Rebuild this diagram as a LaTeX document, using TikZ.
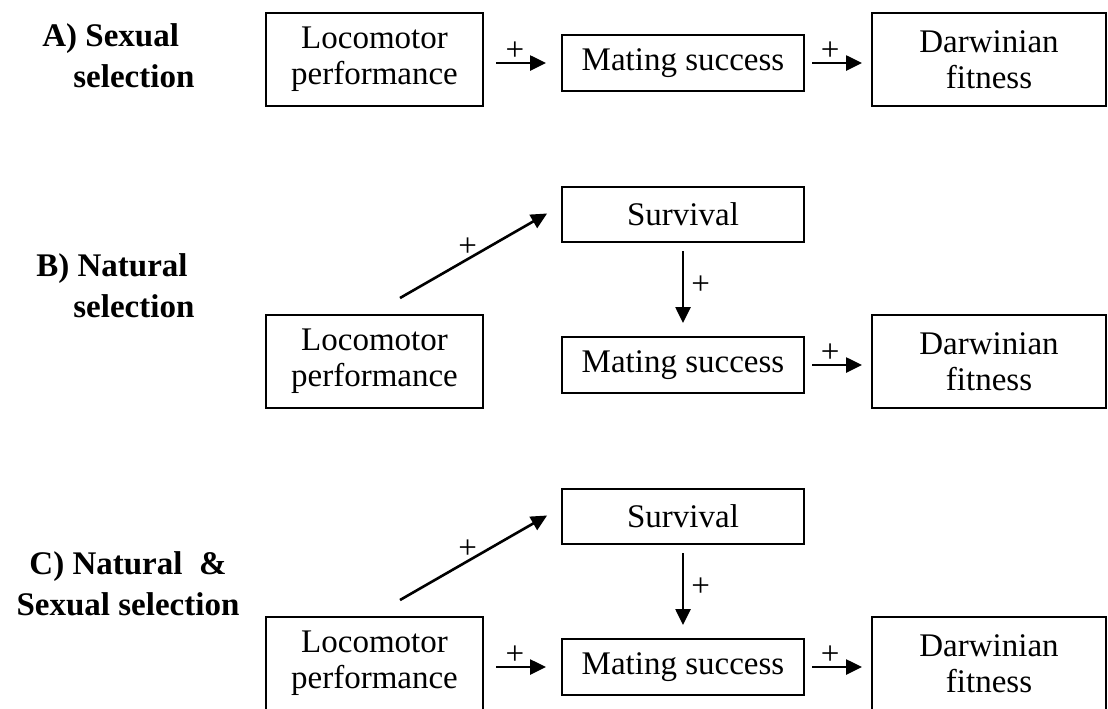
\documentclass[tikz,border=0pt]{standalone}
\usepackage{fontspec}
\setmainfont{Liberation Serif}
\usetikzlibrary{arrows.meta,calc}

\begin{document}
\begin{tikzpicture}[x=0.5pt,y=0.5pt,
	box/.style={draw,line width=1pt,align=center,inner sep=0pt,font=\fontsize{16.5}{18}\selectfont},
	link/.style={line width=1.3pt,-{Triangle[length=8pt,width=7.5pt]}},
	sign/.style={font=\fontsize{16.5}{17}\selectfont,inner sep=0.5pt},
	panel/.style={font=\bfseries\fontsize{16.5}{20.5}\selectfont,inner sep=0pt}]
\useasboundingbox (0,0) rectangle (1108,-708);
% the three panel titles
\node[panel,align=left,anchor=base west] (titleA) at (42,-87) {A) Sexual\\\hspace*{15.5pt}selection};
\node[panel,align=left,anchor=base west] (titleB) at (36,-317) {B) Natural\\\hspace*{18.5pt}selection};
\node[panel,align=center,anchor=base] (titleC) at (128,-615) {C) Natural\ \ \&\\Sexual selection};
% boxes in every row
\foreach \r/\t in {A/13,B/315,C/617} {
	\node[box,minimum width=108.5pt,minimum height=46.5pt] (loco\r) at (374.5,-\t-46.5) {Locomotor\\performance};
	\node[box,minimum width=121pt,minimum height=28pt] (mate\r) at (683,-\t-50) {Mating success};
	\node[box,minimum width=117pt,minimum height=46.5pt] (darw\r) at (989,-\t-46.5) {Darwinian\\fitness};
	\draw[link,shorten <=3.5pt,shorten >=4.5pt] (mate\r) -- node[sign,above,pos=0.38]{+} (mate\r -| darw\r.west);
}
% sexual path
\foreach \r in {A,C} {
	\draw[link,shorten <=6pt,shorten >=7.5pt] (mate\r -| loco\r.east) -- node[sign,above,pos=0.4]{+} (mate\r);
}
% natural path through survival
\foreach \r/\t in {B/315,C/617} {
	\node[box,minimum width=121pt,minimum height=27.5pt] (surv\r) at (683,-\t+100.5) {Survival};
	\coordinate (foot\r) at ($(loco\r.north)+(25.5,16)$);
	\draw[link,shorten >=8pt] (foot\r) -- node[sign,above,pos=0.42]{+} ([yshift=4.5pt]surv\r.west);
	\draw[link,shorten <=4pt,shorten >=6.5pt] (surv\r) -- node[sign,right,pos=0.45,xshift=3pt]{+} (mate\r);
}
\end{tikzpicture}
\end{document}
